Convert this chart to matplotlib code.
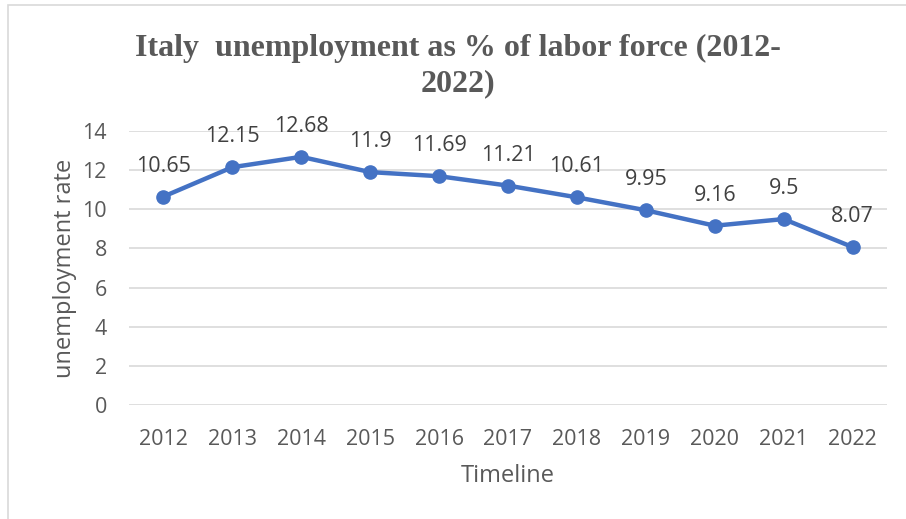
import matplotlib.pyplot as plt
from matplotlib.patches import Rectangle

years = ["2012", "2013", "2014", "2015", "2016", "2017", "2018", "2019", "2020", "2021", "2022"]
rate = [10.65, 12.15, 12.68, 11.9, 11.69, 11.21, 10.61, 9.95, 9.16, 9.5, 8.07]
yticks = [0, 2, 4, 6, 8, 10, 12, 14]

blue = "#4472C4"
grey_text = "#595959"
grid_grey = "#D9D9D9"

fig = plt.figure(figsize=(9.06, 5.19), dpi=100)
ax = fig.add_axes([129 / 906, 1 - 405 / 519, (887 - 129) / 906, (405 - 131) / 519])

x = list(range(len(years)))
ax.plot(x, rate, color=blue, lw=3.2, marker="o", markersize=9.5, zorder=3)

for xi, v in zip(x, rate):
    ax.annotate(f"{v:g}", (xi, v), xytext=(0, 22), textcoords="offset points",
                ha="center", va="center", fontsize=15.5, color="#404040",
                family="Open Sans")

ax.set_xlim(-0.5, len(years) - 0.5)
ax.set_ylim(0, 14)
ax.set_xticks(x)
ax.set_xticklabels(years)
ax.set_yticks(yticks)
ax.grid(axis="y", color=grid_grey, lw=1.2)
ax.set_axisbelow(True)
for s in ax.spines.values():
    s.set_visible(False)
ax.tick_params(length=0, labelsize=15.5, labelcolor=grey_text)
ax.tick_params(axis="y", pad=16)
ax.tick_params(axis="x", pad=17)
for lab in ax.get_xticklabels() + ax.get_yticklabels():
    lab.set_family("Open Sans")

ax.set_ylabel("unemployment rate", fontsize=17, color=grey_text, family="Open Sans", labelpad=4)
ax.set_xlabel("Timeline", fontsize=17, color=grey_text, family="Open Sans", labelpad=10)

fig.text(0.505, 1 - 66 / 519, "Italy  unemployment as % of labor force (2012-\n2022)",
         ha="center", va="center", fontsize=23, fontweight="bold", color=grey_text,
         family="Liberation Serif", linespacing=1.25)

# outer chart border
fig.add_artist(Rectangle((8 / 906, -0.1), 1.2, 1 - 5 / 519 + 0.1, transform=fig.transFigure,
                         fill=False, edgecolor=grid_grey, lw=1.2))

fig.savefig("out.png", dpi=100)
